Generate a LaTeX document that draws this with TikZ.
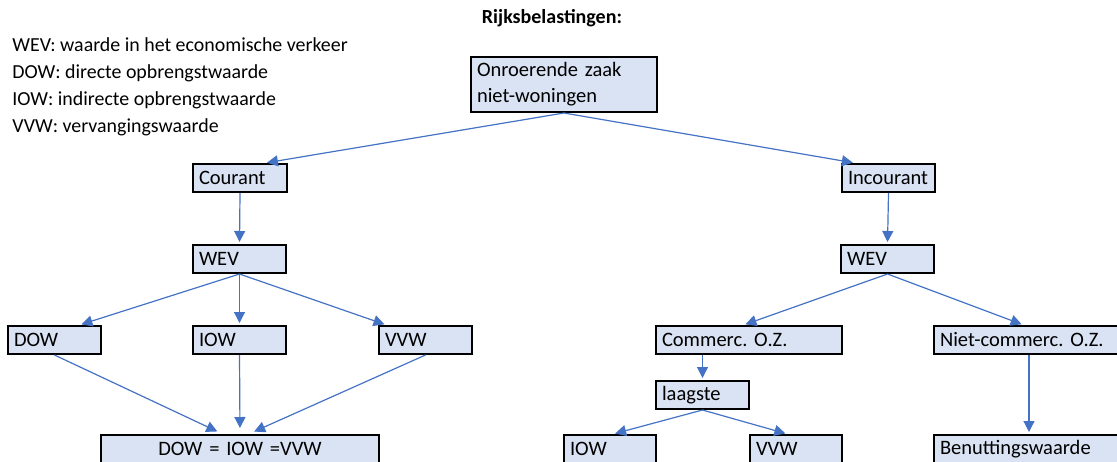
\documentclass[tikz,border=0pt]{standalone}
\usepackage{fontspec}
\setmainfont{Carlito}
\usetikzlibrary{arrows.meta}
\definecolor{boxfill}{RGB}{218,227,243}
\definecolor{linkblue}{RGB}{68,114,196}
\frenchspacing
\tikzset{
  box/.style={draw=black, line width=1pt, fill=boxfill, anchor=north west, inner xsep=3pt, inner ysep=0pt,
    minimum height=14pt, align=left, font=\fontsize{10.25}{13}\selectfont},
  link/.style={draw=linkblue, line width=0.6pt, -{Triangle[length=5.5pt,width=5.5pt]}, shorten >=1pt}
}
\begin{document}
\begin{tikzpicture}[x=0.5pt, y=-0.5pt]
    \useasboundingbox (0,0) rectangle (1117,461);

    \node[font=\bfseries\fontsize{10}{13}\selectfont] (titel) at (552,18) {Rijksbelastingen:};

    \node[anchor=north west, align=left, inner sep=0pt, font=\fontsize{9.95}{13.5}\selectfont] (legenda) at (12,37)
    {WEV: waarde in het economische verkeer\\DOW: directe opbrengstwaarde\\IOW: indirecte opbrengstwaarde\\VVW: vervangingswaarde};

    \node[box, text width=87pt, minimum height=27.5pt] (onr) at (470,56) {Onroerende zaak\\niet-woningen};

    \node[box, text width=41pt] (courant) at (192,163) {Courant};
    \node[box, text width=40.5pt] (incourant) at (841,163) {Incourant};

    \node[box, text width=40.5pt] (wevL) at (192,244) {WEV};
    \node[box, text width=40.5pt] (wevR) at (840,244) {WEV};

    \node[box, text width=40.5pt] (dowL) at (7,325) {DOW};
    \node[box, text width=40.5pt] (iowL) at (192,325) {IOW};
    \node[box, text width=40.5pt] (vvwL) at (378,325) {VVW};
    \node[box, text width=133pt, align=center] (gelijk) at (100,434) {DOW = IOW =VVW};

    \node[box, text width=87pt] (commerc) at (655,325) {Commerc. O.Z.};
    \node[box, text width=89pt] (nietcommerc) at (933,325) {Niet-commerc. O.Z.};
    \node[box, text width=40.5pt] (laagste) at (655,380) {laagste};
    \node[box, text width=40pt] (iowR) at (563,434) {IOW};
    \node[box, text width=40pt] (vvwR) at (749,434) {VVW};
    \node[box, text width=89pt] (benut) at (933,434) {Benuttingswaarde};

    % boven
    \draw[link] (onr.south) -- (courant.31);
    \draw[link] (onr.south) -- (incourant.156);
    \draw[link] (courant.south) -- (wevL.north);
    \draw[link] (incourant.south) -- (wevR.north);

    % courant
    \draw[link] (wevL.south) -- (dowL.31);
    \draw[link] (wevL.south) -- (iowL.north);
    \draw[link] (wevL.south) -- (vvwL.159);
    \draw[link, shorten >=3pt] (dowL.south) -- (gelijk.139);
    \draw[link, shorten >=3pt] (iowL.south) -- (gelijk.north);
    \draw[link, shorten >=3pt] (vvwL.south) -- (gelijk.60);

    % incourant
    \draw[link] (wevR.south) -- (commerc.110);
    \draw[link] (wevR.south) -- (nietcommerc.110);
    \draw[link] (laagste.north |- commerc.south) -- (laagste.north);
    \draw[link] (laagste.south) -- (iowR.78);
    \draw[link] (laagste.south) -- (vvwR.120);
    \draw[link] (nietcommerc.south) -- (benut.north);
\end{tikzpicture}
\end{document}
